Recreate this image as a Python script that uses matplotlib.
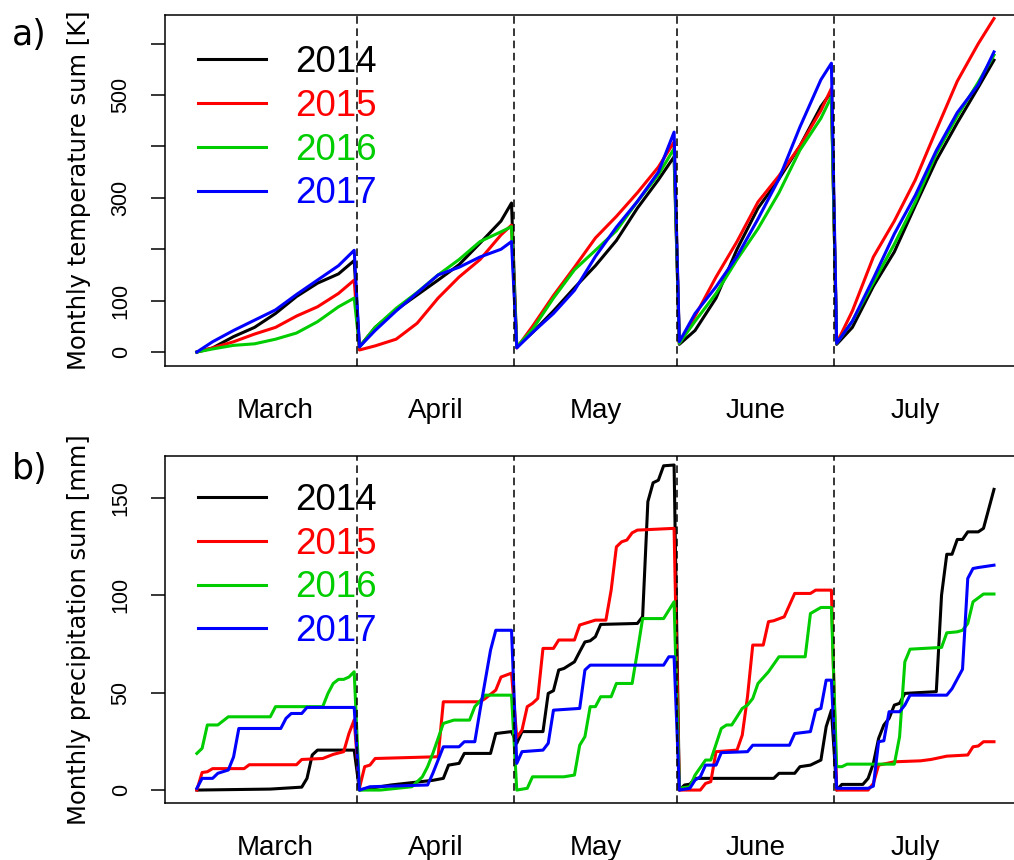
import numpy as np
import matplotlib.pyplot as plt

# months of the season and their length in days
months = ['March', 'April', 'May', 'June', 'July']
month_len = [31, 30, 31, 30, 31]
years = ['2014', '2015', '2016', '2017']
colors = ['black', 'red', '#00CD00', 'blue']

# a) monthly temperature sum [K], day of season (1 = 1 March)
temp_day = [1, 4, 8, 12, 16, 20, 24, 28, 31,
            32, 35, 39, 43, 47, 51, 55, 59, 61,
            62, 65, 69, 73, 77, 81, 85, 89, 92,
            93, 96, 100, 104, 108, 112, 116, 120, 122,
            123, 126, 130, 134, 138, 142, 146, 150, 153]
temp_2014 = [0, 8, 30, 48, 75, 108, 134, 152, 178,
             10, 48, 82, 111, 140, 170, 212, 255, 290,
             10, 38, 80, 125, 168, 217, 280, 335, 380,
             15, 42, 105, 200, 280, 337, 401, 478, 506,
             15, 48, 128, 195, 285, 373, 446, 515, 568]
temp_2015 = [0, 8, 20, 35, 48, 70, 88, 114, 140,
             4, 12, 25, 56, 105, 146, 180, 228, 247,
             8, 50, 110, 165, 222, 264, 310, 360, 409,
             17, 70, 146, 215, 292, 343, 401, 470, 513,
             17, 80, 185, 255, 335, 432, 527, 600, 649]
temp_2016 = [0, 6, 13, 16, 25, 37, 59, 88, 105,
             10, 48, 85, 116, 150, 180, 215, 234, 244,
             10, 44, 105, 160, 198, 236, 293, 345, 396,
             17, 60, 114, 180, 240, 310, 393, 455, 497,
             17, 60, 135, 210, 292, 386, 459, 525, 578]
temp_2017 = [0, 20, 42, 62, 82, 112, 140, 168, 198,
             10, 42, 80, 115, 150, 165, 185, 200, 215,
             8, 38, 75, 120, 186, 243, 293, 350, 428,
             20, 75, 127, 186, 259, 337, 438, 530, 562,
             17, 60, 143, 230, 305, 392, 466, 520, 584]

# b) monthly precipitation sum [mm]
prcp_2014_day = [1, 15, 21, 22, 23, 24, 31,
                 32, 38, 42, 46, 48, 49, 51, 52, 57, 58, 61,
                 62, 63, 67, 68, 69, 70, 71, 73, 74, 75, 76, 77, 78, 85, 86, 87, 88, 89, 90, 92,
                 93, 94, 95, 96, 111, 112, 115, 116, 118, 120, 121, 122,
                 123, 124, 128, 129, 130, 131, 132, 133, 134, 135, 136, 142, 143, 144, 145, 146,
                 147, 148, 150, 151, 153]
prcp_2014 = [0, 0.5, 1.5, 6, 18, 20.5, 20.5,
             0, 2.6, 3.8, 5, 6, 12.8, 13.7, 18.8, 18.8, 29, 30,
             24, 30, 30, 49.6, 51, 61.6, 62.4, 65.8, 71, 76, 76.6, 78.7, 85, 85.5, 89, 148,
             157.7, 159, 166.4, 166.8,
             0, 2.6, 3, 6, 6, 8.6, 8.6, 12, 12.8, 15.4, 32.5, 41,
             0, 2.9, 2.9, 6, 13.7, 26.5, 33.4, 36.8, 43.6, 44.5, 49.6, 50.5, 100, 121, 121,
             128.6, 128.6, 132.5, 132.5, 134.3, 154.3]

prcp_2015_day = [1, 2, 3, 4, 10, 11, 20, 21, 25, 27, 29, 30, 31,
                 32, 33, 34, 35, 47, 48, 55, 56, 58, 59, 60, 61,
                 62, 63, 64, 65, 66, 67, 69, 70, 73, 74, 77, 79, 80, 81, 82, 83, 84, 85, 92,
                 93, 97, 98, 99, 100, 104, 105, 106, 107, 109, 110, 111, 113, 115, 118, 119, 122,
                 123, 129, 130, 131, 134, 139, 141, 144, 148, 149, 150, 151, 153]
prcp_2015 = [0, 9, 9.4, 11, 11, 13, 13, 15.7, 16.2, 18.3, 19.7, 29, 36,
             1, 12, 12.8, 16.2, 17.1, 45.3, 45.3, 47, 51.3, 58, 59, 60,
             27, 30.8, 42.8, 44.5, 47, 72.7, 72.7, 77, 77, 84.7, 87.2, 87.2, 102.6, 124.8,
             127.4, 128.3, 132, 133.4, 134.3,
             0, 0, 3.4, 4.3, 19.7, 20.5, 28.2, 47.9, 74.4, 74.4, 86.4, 86.9, 88.9, 100.9,
             100.9, 102.6, 102.6,
             0, 0, 3.4, 12.8, 14.5, 15, 15.7, 17.4, 18, 22.2, 22.6, 24.8, 24.8]

prcp_2016_day = [1, 2, 3, 5, 7, 15, 16, 25, 26, 27, 28, 29, 30, 31,
                 32, 36, 42, 44, 45, 46, 48, 50, 53, 54, 56, 61,
                 62, 64, 65, 71, 73, 74, 75, 76, 77, 78, 80, 81, 84, 85, 86, 90, 92,
                 93, 95, 96, 98, 99, 101, 102, 103, 104, 105, 106, 107, 108, 110, 112, 117, 118,
                 120, 122,
                 123, 124, 125, 134, 135, 136, 137, 143, 144, 146, 147, 148, 149, 151, 153]
prcp_2016 = [18.8, 21.4, 33.4, 33.4, 37.6, 37.6, 42.8, 42.8, 49.6, 54.7, 56.8, 56.8, 58, 60.7,
             0, 0, 1.7, 6.8, 12, 18.8, 34.2, 35.9, 35.9, 42.8, 48.7, 48.7,
             0, 0.9, 6.8, 6.8, 7.7, 23, 27.4, 42.8, 42.8, 47.9, 47.9, 54.7, 54.7, 71, 88, 88,
             96.6,
             0.9, 1.7, 7.7, 15.4, 15.4, 31.6, 33.4, 33.4, 37.6, 41.9, 43.6, 47, 54.7, 60.7,
             68.4, 68.4, 90.6, 93.7, 93.7,
             12, 12, 13.3, 13.3, 27.4, 65.8, 72.3, 73.2, 80.7, 81.2, 82, 85.5, 96.6, 100.6,
             100.6]

prcp_2017_day = [1, 2, 4, 5, 7, 8, 9, 17, 18, 19, 21, 22, 31,
                 32, 34, 45, 46, 48, 51, 52, 54, 55, 57, 58, 61,
                 62, 63, 67, 68, 69, 74, 75, 76, 90, 91, 92,
                 93, 95, 96, 97, 98, 100, 101, 106, 107, 114, 115, 118, 119, 120, 121, 122,
                 123, 129, 130, 131, 132, 133, 135, 136, 137, 144, 145, 146, 147, 148, 149,
                 150, 153]
prcp_2017 = [0.9, 6, 6, 8.6, 10.3, 17, 31.6, 31.6, 36.8, 39.3, 39.3, 42.4, 42.4,
             0, 1.7, 2.6, 8.6, 22.2, 22.2, 24.8, 24.8, 41, 71.8, 82, 82,
             13.7, 19.7, 20.5, 24, 41, 41.9, 61.6, 64.1, 64.1, 68.4, 68.4,
             0, 0.9, 5.1, 6.8, 12.8, 12.8, 19.2, 19.7, 23, 23, 29, 30, 41, 41.9, 56.4, 56.4,
             0.9, 0.9, 2, 24.8, 25.3, 40.2, 40.2, 43.6, 48.7, 48.7, 52, 57, 62, 108.6, 113.7,
             114.2, 115.4]

temp_series = [temp_2014, temp_2015, temp_2016, temp_2017]
prcp_series = [(prcp_2014_day, prcp_2014), (prcp_2015_day, prcp_2015),
               (prcp_2016_day, prcp_2016), (prcp_2017_day, prcp_2017)]

# month boundaries (between last and first day) and centres
ends = np.cumsum(month_len)
bounds = ends[:-1] + 0.5
centres = (np.concatenate([[0.5], ends[:-1] + 0.5]) + ends + 0.5) / 2

fig = plt.figure(figsize=(10.14, 8.6), dpi=100)
ax1 = fig.add_axes([0.1627, 0.5744, 0.849, 0.408])
ax2 = fig.add_axes([0.1627, 0.0666, 0.849, 0.4031])

for i, yr in enumerate(years):
    ax1.plot(temp_day, temp_series[i], color=colors[i], lw=2.2, label=yr)
    ax2.plot(prcp_series[i][0], prcp_series[i][1], color=colors[i], lw=2.2, label=yr)

for ax, top in ((ax1, 0.915), (ax2, 0.923)):
    for b in bounds:
        ax.axvline(b, color='black', lw=1.1, linestyle=(0, (5, 3)))
    ax.set_xlim(-5.08, 159.08)
    ax.set_xticks(centres)
    ax.set_xticklabels(months, fontsize=20, family='Liberation Sans')
    ax.tick_params(axis='x', length=0, pad=23)
    ax.tick_params(axis='y', direction='out', length=10, width=1.1, pad=14)
    for s in ax.spines.values():
        s.set_linewidth(1.1)
    leg = ax.legend(loc='upper left', bbox_to_anchor=(0.038, top), frameon=False,
                    handlelength=1.85, handletextpad=0.8, labelspacing=0.24,
                    borderaxespad=0, borderpad=0, labelcolor='linecolor',
                    prop={'family': 'Liberation Sans', 'size': 26.5})
    for h in leg.get_lines():
        h.set_linewidth(2.2)

ax1.set_ylim(-27.2, 655.6)
ax1.set_yticks([0, 100, 200, 300, 400, 500, 600])
ax1.set_yticklabels(['0', '100', '', '300', '', '500', ''])
ax2.set_ylim(-6.5, 171.4)
ax2.set_yticks([0, 50, 100, 150])
ax2.set_yticklabels(['0', '50', '100', '150'])
for ax in (ax1, ax2):
    for t in ax.get_yticklabels():
        t.set_rotation(90)
        t.set_va('center')
        t.set_fontsize(15.5)
        t.set_family('Liberation Sans')

ax1.set_ylabel('Monthly temperature sum [K]', fontsize=17.5, labelpad=14)
ax2.set_ylabel('Monthly precipitation sum [mm]', fontsize=17.5, labelpad=14)

fig.text(0.012, 0.959, 'a)', fontsize=25, va='center')
fig.text(0.012, 0.455, 'b)', fontsize=25, va='center')

fig.savefig('out.png', dpi=100)
